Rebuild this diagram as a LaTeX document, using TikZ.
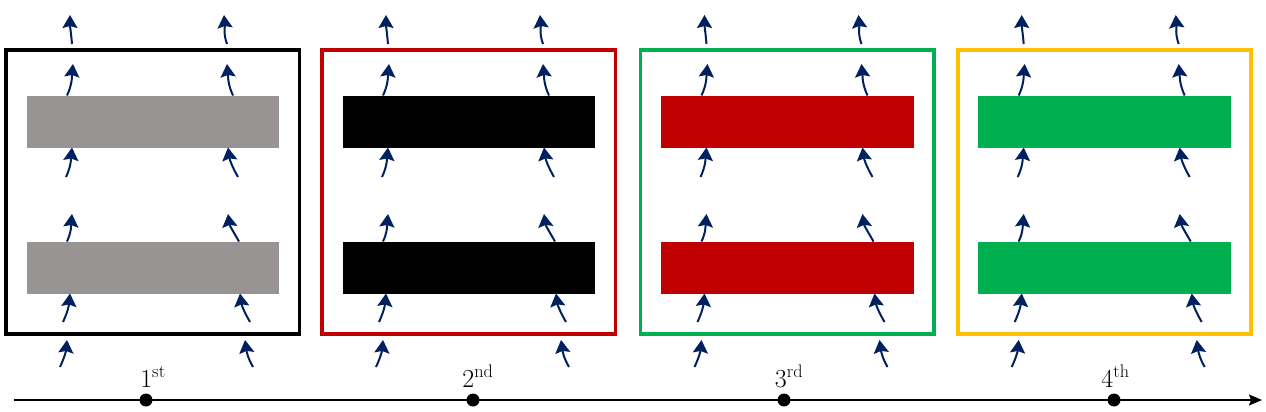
\documentclass[tikz,border=0pt]{standalone}
\usetikzlibrary{arrows.meta}
\definecolor{navy}{RGB}{0,32,96}
\definecolor{barGray}{RGB}{152,148,147}
\definecolor{darkRed}{RGB}{192,0,0}
\definecolor{brGreen}{RGB}{0,176,80}
\definecolor{gold}{RGB}{255,192,0}
\begin{document}
\begin{tikzpicture}[x=1pt,y=-1pt,
  flow/.style={navy, line width=2pt, -{Stealth[length=13pt,width=15pt,inset=2pt]}},
  frame/.style={line width=3.8pt},
  timeline/.style={line width=1.6pt, -{Stealth[length=13pt,width=11pt,inset=2pt]}},
  tdot/.style={circle, fill=black, inner sep=0pt, minimum size=13pt},
  tlabel/.style={anchor=base, font=\fontsize{26}{30}\selectfont, inner sep=0pt}]
\useasboundingbox (0,0) rectangle (1266,412);
\foreach \L/\fc/\bc in {6/black/barGray, 322/darkRed/black, 640.5/brGreen/darkRed, 957.7/gold/brGreen}{
  \begin{scope}[shift={(\L,0)}]
    \fill[\bc] (20.5,95.5) rectangle (273,147.5);
    \fill[\bc] (20.5,241.5) rectangle (273,293.5);
    \draw[frame, draw=\fc] (0,50) rectangle (293.4,334);
    % row A (outside top)
    \draw[flow] (66,44) to[out=95,in=-90] (64,15);
    \draw[flow] (221,44) to[out=110,in=-85] (218,15);
    % row B
    \draw[flow] (61,95.5) to[out=65,in=-95] (67,64);
    \draw[flow] (227,95.5) to[out=115,in=-85] (221,64);
    % row C
    \draw[flow] (60,177) to[out=65,in=-95] (66,147.5);
    \draw[flow] (232,177) to[out=120,in=-82] (222,147.5);
    % row D
    \draw[flow] (61,241.5) to[out=65,in=-95] (66,214);
    \draw[flow] (233,241.5) to[out=120,in=-82] (222,214);
    % row E
    \draw[flow] (57,322) to[out=65,in=-95] (64,293.5);
    \draw[flow] (244,322) to[out=120,in=-82] (234,293.5);
    % row F (outside bottom)
    \draw[flow] (54,367) to[out=65,in=-95] (61,340);
    \draw[flow] (247,367) to[out=120,in=-82] (239,340);
  \end{scope}
}
\coordinate (ts) at (14,400);
\coordinate (te) at (1262,400);
\draw[timeline] (ts) -- (te);
\node[tdot] (d1) at (146,400) {};
\node[tdot] (d2) at (473,400) {};
\node[tdot] (d3) at (784,400) {};
\node[tdot] (d4) at (1114,400) {};
\node[tlabel] (l1) at (153,387) {1\textsuperscript{st}};
\node[tlabel] (l2) at (478,387) {2\textsuperscript{nd}};
\node[tlabel] (l3) at (789,387) {3\textsuperscript{rd}};
\node[tlabel] (l4) at (1115.5,387) {4\textsuperscript{th}};
\end{tikzpicture}
\end{document}
